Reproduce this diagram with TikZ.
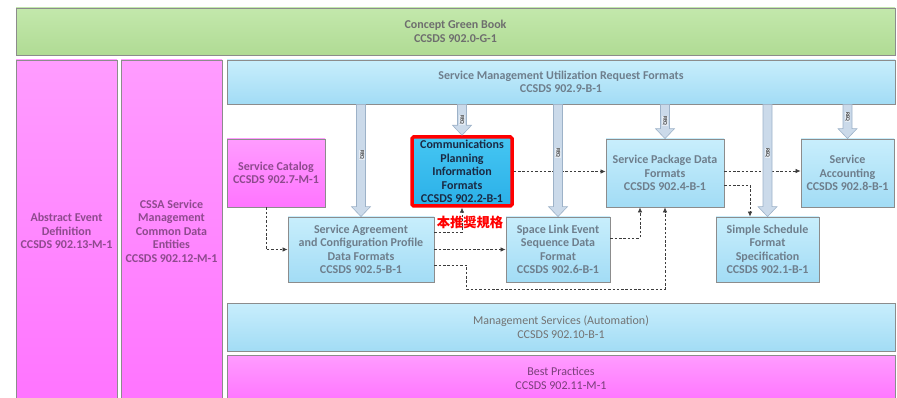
\documentclass[tikz,border=0pt]{standalone}
\usepackage{fontspec}
\setmainfont{Carlito}
\newfontfamily\cjk{Noto Sans CJK JP}
\usetikzlibrary{arrows.meta,calc}
\definecolor{boxline}{HTML}{8C8C8C}
\definecolor{greentop}{HTML}{C3E8AC}
\definecolor{greenbot}{HTML}{B0DB94}
\definecolor{pinktop}{HTML}{FF9CFF}
\definecolor{pinkbot}{HTML}{FF74FF}
\definecolor{bluetop}{HTML}{C8EEFC}
\definecolor{bluebot}{HTML}{A2DCF5}
\definecolor{commtop}{HTML}{45C6F2}
\definecolor{commbot}{HTML}{2BB0E8}
\definecolor{greentext}{HTML}{6E6E6E}
\definecolor{pinktext}{HTML}{8E4A8E}
\definecolor{bluetext}{HTML}{6E7E8C}
\definecolor{commtext}{HTML}{1A2A44}
\definecolor{fatfill}{HTML}{CBDAEA}
\definecolor{fatline}{HTML}{9DB2C8}
\definecolor{dashcol}{HTML}{3C3C3C}
\tikzset{
  box/.style={draw=boxline, line width=0.8pt, inner sep=0pt, align=center,
    font=\bfseries\fontsize{12}{13.5}\selectfont},
  greenbox/.style={box, top color=greentop, bottom color=greenbot, text=greentext},
  pinkbox/.style={box, top color=pinktop, bottom color=pinkbot, text=pinktext},
  bluebox/.style={box, top color=bluetop, bottom color=bluebot, text=bluetext},
  commbox/.style={box, draw=red, line width=3.5pt, rounded corners=1.5pt,
    top color=commtop, bottom color=commbot, text=commtext},
  plainfont/.style={font=\fontsize{12}{13.5}\selectfont},
  dashconn/.style={draw=dashcol, line width=0.7pt, dash pattern=on 2.5pt off 1.8pt,
    -{Latex[length=5pt,width=4.5pt]}},
  fatarrow/.style={fill=fatfill, draw=fatline, line width=0.6pt, line join=miter},
  reqlabel/.style={font=\bfseries\fontsize{5.5}{6}\selectfont, text=black!75,
    rotate=-90, inner sep=0.6pt, fill=fatfill!50!white}
}
\newcommand\fatarr[2]{%
  \draw[fatarrow] let \p1=(#2.north), \p2=(#1.south) in
    (\x1-4.5pt,\y2) -- (\x1-4.5pt,\y1+10pt) -- (\x1-9.5pt,\y1+10pt) -- (\x1,\y1)
    -- (\x1+9.5pt,\y1+10pt) -- (\x1+4.5pt,\y1+10pt) -- (\x1+4.5pt,\y2) -- cycle;}
\begin{document}
\begin{tikzpicture}[x=1pt,y=-1pt]
\useasboundingbox (0,0) rectangle (897,398);
% big boxes
\node[greenbox, minimum width=879pt, minimum height=47pt] (cgb) at (455.5,31.5)
  {Concept Green Book\\CCSDS 902.0-G-1};
\node[pinkbox, minimum width=101pt, minimum height=342pt] (aed) at (66.5,231)
  {Abstract Event\\Definition\\CCSDS 902.13-M-1};
\node[pinkbox, minimum width=101pt, minimum height=342pt] (cssa) at (171.5,231)
  {CSSA Service\\Management\\Common Data\\Entities\\CCSDS 902.12-M-1};
\node[bluebox, minimum width=668pt, minimum height=44pt] (smurf) at (561,82)
  {Service Management Utilization Request Formats\\CCSDS 902.9-B-1};
\node[bluebox, plainfont, text=black!55, minimum width=668pt, minimum height=48pt] (ms) at (561,327)
  {Management Services (Automation)\\CCSDS 902.10-B-1};
\node[pinkbox, plainfont, text=pinktext!85!black, minimum width=668pt, minimum height=47pt] (bp) at (561,378.5)
  {Best Practices\\CCSDS 902.11-M-1};
% inner boxes
\node[pinkbox, minimum width=98pt, minimum height=68pt] (sc) at (276,173)
  {Service Catalog\\CCSDS 902.7-M-1};
\node[commbox, minimum width=100pt, minimum height=69pt] (comm) at (462,171.5)
  {Communications\\Planning\\Information\\Formats\\CCSDS 902.2-B-1};
\node[font=\cjk\bfseries\fontsize{13.3}{14}\selectfont, text=red, inner sep=0pt] (rec) at (470,222) {本推奨規格};
\node[bluebox, minimum width=146pt, minimum height=65pt] (sac) at (361,249.5)
  {Service Agreement\\and Configuration Profile\\Data Formats\\CCSDS 902.5-B-1};
\node[bluebox, minimum width=104pt, minimum height=65pt] (sle) at (558,249.5)
  {Space Link Event\\Sequence Data\\Format\\CCSDS 902.6-B-1};
\node[bluebox, minimum width=118pt, minimum height=68pt] (sp) at (665,173)
  {Service Package Data\\Formats\\CCSDS 902.4-B-1};
\node[bluebox, minimum width=93pt, minimum height=68pt] (sa) at (847.5,173)
  {Service\\Accounting\\CCSDS 902.8-B-1};
\node[bluebox, minimum width=103pt, minimum height=65pt] (ss) at (767.5,249.5)
  {Simple Schedule\\Format\\Specification\\CCSDS 902.1-B-1};
% dashed connectors
\draw[dashconn] ([xshift=-10pt]sc.south) |- (sac.west);
\draw[dashconn] ([yshift=17pt]sac.east) -| (comm.south);
\draw[dashconn] (sac.east) -- (sle.west);
\draw[dashconn] ([yshift=-15.5pt]sac.east) -| ++(32,24) -| (sp.south);
\draw[dashconn] (comm.east) -- (comm.east -| sp.west);
\draw[dashconn] ([yshift=11.5pt]sle.east) -| ([xshift=-25pt]sp.south);
\draw[dashconn] ([yshift=2pt]sp.east) -- ([yshift=2pt]sa.west);
\draw[dashconn] ([yshift=-12pt]sp.east) -| ([xshift=-17.5pt]ss.north);
% fat REQ arrows
\fatarr{smurf}{sac}
\fatarr{smurf}{comm}
\fatarr{smurf}{sle}
\fatarr{smurf}{sp}
\fatarr{smurf}{ss}
\fatarr{smurf}{sa}
\node[reqlabel] (r1) at (362,155) {REQ};
\node[reqlabel] (r2) at (462,120) {REQ};
\node[reqlabel] (r3) at (558,153) {REQ};
\node[reqlabel] (r4) at (665,121) {REQ};
\node[reqlabel] (r5) at (767.5,153) {REQ};
\node[reqlabel] (r6) at (847.5,117) {REQ};
\end{tikzpicture}
\end{document}
